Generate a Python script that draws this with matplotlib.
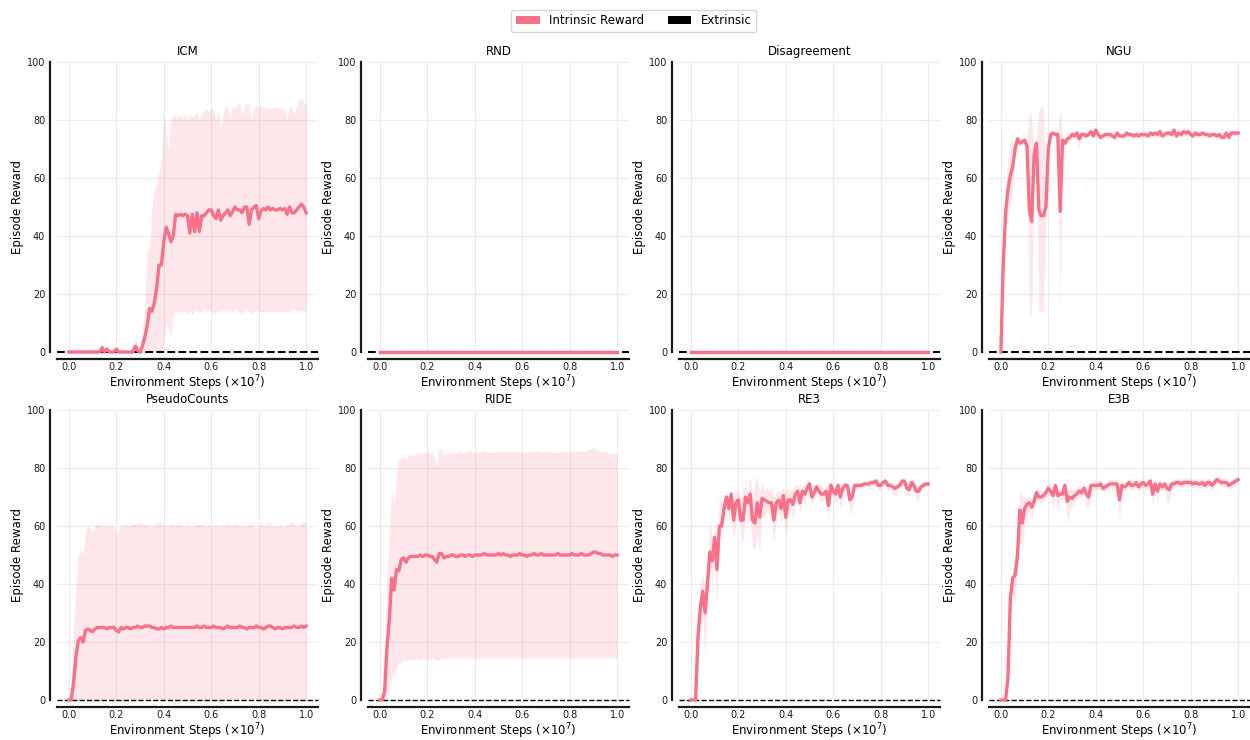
import numpy as np
import matplotlib
matplotlib.use("Agg")
import matplotlib.pyplot as plt
from matplotlib.patches import Patch

# ---------------- data ----------------
STEPS = [i / 100 for i in range(101)]  # x 10^7 environment steps
TITLES = ["ICM", "RND", "Disagreement", "NGU", "PseudoCounts", "RIDE", "RE3", "E3B"]
Y_TICKS = [0, 20, 40, 60, 80, 100]
X_TICKS = [0.0, 0.2, 0.4, 0.6, 0.8, 1.0]

ICM_MEAN = [0,0,0,0,0,0,0,0,0,0, 0,0,0,0,1.5,0,1,0,0,0,
            1,0,0,0,0,0,0,0,2,0.5, 0,2,5,9,15,14,17,22,30,30,
            38,43,41,38,40,47.5,47,47.5,47,47.5, 47,41,47.5,41.5,48,41.5,47,47,48,49,
            49,47,46,49,45.5,47,48,49,47,48.5, 50,49,49,48,50,50,44,49,50,50.5,
            46,48.5,49.5,49,50,49,49.5,49,49,49.5, 49,49.5,47.5,50,48,48,49,50,51,50, 48]
ICM_HIGH = [0,0,0,0,0,0,0,0,0,0, 0,0,0,0,3,1,2,0,0,0,
            2,0,0,0,0,0,0,0,5,2, 1,8,15,36,35,50,56,57,62,66,
            82,77,69,80,82,81,81,82,80,82, 80,82,81,82,83,80,82,83,84,83,
            84,84,80,84,78,82,85,84,80,85, 84,85,86,82,85,86,85,79,84,85,
            84.5,85,84,84.5,84,84,84,84.5,84,84, 84.5,83,80,85,84,82,85,87,87.5,86, 85]
ICM_LOW = [0,0,0,0,0,0,0,0,0,0, 0,0,0,0,0,0,0,0,0,0,
           0,0,0,0,0,0,0,0,0,0, 0,0,0,0,0,0,0,0,0,0,
           3,10,8,5,13,14,14,13.5,14,14, 13,14,13,14.5,14,13.5,14,15,14,14.5,
           14,13,14,14,14.5,14,14,14.5,14,14, 15,14,14,13,14,14.5,14,13,14,14.5,
           14,14,14,14,14,14,14,14,14,14, 14,14,14,14,14.5,15,14,14,14.5,14, 14.5]

ZERO_MEAN = [0] * 101  # RND and Disagreement stay at zero

NGU_MEAN = [0,30,48,56,61,64,70,73.5,72,72.5, 73,71,49,45,68,72,49,47,47,50,
            70,75,75.5,75,75,48.5,73,72,73.5,74, 75,74.5,75.5,73.5,75,75,74.5,75,76,74.5,
            76.5,75,74,74.5,75,75,75,74.5,74,75.5, 74.5,74.5,74.5,75.5,75,75,74.5,75,74.5,75,
            75,75,74.5,75.5,75,75.5,75,76,74.5,75, 75.5,75.5,75,76.5,74.5,75.5,75,76,75.5,76,
            75,74.5,75.5,75,75,75.5,75,75,74.5,75, 75,74.5,75,74,74,75.5,74,75.5,75.5,75.5, 75.5]
NGU_HIGH = [0,34,56,68,73,72,72,74.5,73,73.5, 74,72.5,83,80,70,73.5,83,85,84,52,
            71.5,76,76.5,76,76.5,84,74.5,73,74.5,75, 76,75.5,76.5,75,76,76,75.5,76,77,75.5,
            77.5,76,75,75.5,76,76,76,75.5,75,76.5, 75.5,75.5,75.5,76.5,76,76,75.5,76,75.5,76,
            76,76,75.5,76.5,76,76.5,76,77,75.5,76, 76.5,76.5,76,77.5,75.5,76.5,76,77,76.5,77,
            76,75.5,76.5,76,76,76.5,76,76,75.5,76, 76,75.5,76,75,75,76.5,75,76.5,76.5,76.5, 76.5]
NGU_LOW = [0,26,42,47,50,58,68,72.5,71,71.5, 72,69.5,14,13,66,70.5,14,14,14,48,
           68.5,74,74.5,74,74.5,14,71.5,71,72.5,73, 74,73.5,74.5,70,74,74,73.5,74,75,73.5,
           75.5,74,73,73.5,74,74,74,73.5,73,74.5, 73.5,73.5,73.5,74.5,74,74,73.5,74,73.5,74,
           74,74,73.5,74.5,74,74.5,74,75,73.5,74, 74.5,74.5,74,75.5,73.5,74.5,74,75,74.5,75,
           74,73.5,74.5,74,74,74.5,74,74,73.5,74, 74,73.5,74,73,73,74.5,73,74.5,74.5,74.5, 74.5]

PC_MEAN = [0,0,6,15,20.5,21.5,20,24,24.5,24, 23.5,24.5,25,25,25,25,24.5,25,25,25,
           24,23.5,25,24.5,25,25,24.5,25,25,25.5, 25,25,25.5,25.5,25.5,25,25,24.5,24.5,25,
           24.5,25,25,25.5,25,25,25,25,25,25, 25,25,25,25,25.5,25,25,25.5,25,25,
           25,25.5,25,25,25,24.5,25,25.5,25,25, 25,25,25.5,25,25,24.5,25,25,25,25.5,
           25,25,24.5,25,25.5,25.5,25,24.5,25,25, 24.5,25,25,25,25,25.5,25,25,25.5,25, 25.5]
PC_HIGH = [0,5,25,40,50,52,50,58,60,59, 58,60,61,60.5,60,60,60.5,60,60,59.5,
           57,58,60.5,60,60.5,60,60,60.5,61,61, 61.5,61,60.5,60.5,60,60,60,61,61.5,61,
           60,60,60,60.5,60.5,60,61,60.5,60,60, 60.5,60,60,60,60.5,61,60.5,60,60,60.5,
           60,60,60.5,60,60,60.5,60,61,60,60, 61,60,60,60.5,60,60,60.5,61,60,59.5,
           60,61,60,60,61.5,61,60,60,60,60.5, 59.5,60,60,61,61.5,60.5,60,60,61,61.5, 61]
PC_LOW = [0] * 101

RIDE_MEAN = [0,0,3,18,28,42,38,45,44.5,48.5, 49,47.5,49,49.5,49.5,49.5,49.5,50,49.5,50,
             50,49.5,49.5,48.5,47.5,50.5,50.5,49,49.5,49.5, 50,50,49.5,49.5,50,50,49.5,50,50,49.5,
             50,50,50,50,50.5,50,50,50,50,50, 50.5,50,50.5,50,50,49.5,50,50,50,50.5,
             50,50,49.5,50,50,50.5,50,50,50.5,50, 50,50,50,50,50,50.5,50,50,50,50,
             50,50.5,50,50,50,50.5,50,50,50,50.5, 51,51,50.5,50.5,50,50,50,50,49.5,50, 50]
RIDE_HIGH = [0,3,20,40,60,72,68,77,83,83, 84,83,84,85,84,85,85,85.5,85,85.5,
             86,85,85.5,83,81,87,86.5,84.5,85,85.5, 85,85.5,85,86,85.5,85,85.5,85.5,86,85.5,
             85.5,85.5,85.5,86,86,85.5,85.5,85.5,85.5,85.5, 86,85.5,85.5,85.5,86,85.5,85.5,86,85.5,85.5,
             85.5,85.5,85.5,86,86,85.5,86,85.5,85.5,85.5, 86,85.5,85.5,85.5,85.5,85.5,85.5,85.5,86,85.5,
             85.5,86,85.5,86,86,86,85.5,86,86.5,86.5, 87,86.5,86,85.5,86,85.5,85.5,85,85,85, 85]
RIDE_LOW = [0,0,0,0,4,8,9,11,13,13, 14,13.5,14,14,14,14.5,14,14,14.5,14,
            14,14,14.5,14,13.5,14,14.5,14.5,14.5,14.5, 14.5,14.5,14.5,14.5,14.5,14.5,14.5,14.5,14.5,14.5,
            14.5,14.5,14.5,14.5,14.5,14.5,14.5,14.5,14.5,14.5, 14.5,14.5,14.5,14.5,14.5,14.5,14.5,14.5,14.5,14.5,
            14.5,14.5,14.5,14.5,14.5,14.5,14.5,14.5,14.5,14.5, 14.5,14.5,14.5,14.5,14.5,14.5,14.5,14.5,14.5,14.5,
            14.5,14.5,14.5,14.5,14.5,14.5,14.5,14.5,14.5,14.5, 14.5,14.5,14.5,14.5,14.5,14.5,14.5,14.5,14.5,14.5, 14.5]

RE3_MEAN = [0,0,0,22,32,37.5,30,40,51,48, 56,45,60,60,66,70,66,71,62,68,
            69,62,62,70,68,71,62,61,68,63, 69.5,69,68.5,68,68,62,68,69,66,70.5,
            63,69,69,67.5,71,72,68,72,71,73, 74.5,70,71.5,73.5,72,71,71,72,67,74,
            72,71,74,70,73,74,74,69,70,74, 74,74,74,74.5,74.5,74.5,75,75,75.5,74,
            74,75,75.5,74,74,73.5,73,73.5,74,75.5, 75.5,73,72.5,75,74,72,72,73.5,74,74.5, 74.5]
RE3_HIGH = [0,0,0,28,40,43,40,46,62,55, 60,55,70,68,70,71,70,72,70,72,
            72,70,73,74,72,77,70,75,77,72, 75,72,73,72,74,70,72,72,72,74,
            72,73,72,73,74,74,73,74,74,76, 76,73,74,75,74,74,73,74,73,76,
            74,74,75,73,75,75.5,75,72,72,75, 75,75,75,75.5,75.5,75.5,76,76,76.5,75.5,
            75,76,76.5,75.5,75,75,74.5,75,75.5,76.5, 76.5,75,74.5,76,76,74,74,75,75.5,75.5, 75.5]
RE3_LOW = [0,0,0,15,24,30,15,33,45,40, 52,34,55,57,62,67,62,68,55,62,
           66,56,55,65,62,62,52,52,58,51, 63,63,65,64,62,54,63,65,60,66,
           56,64,66,62,68,69,64,70,68,70, 71,67,69,72,70,68,69,70,62,71,
           70,68,72,66,71,72.5,72.5,64,66,73, 73,73,73,73.5,73.5,73.5,74,74,74.5,72.5,
           72.5,74,74,72,72.5,71,70,71.5,72.5,74, 74.5,71,70,73.5,72,69,69.5,72,72.5,73.5, 73.5]

E3B_MEAN = [0,0,0,8,35,42,43,50,65.5,61, 66,67.5,68,66.5,68.5,71.5,70,70,70.5,71.5,
            73,72,70.5,74,70.5,71,71,74,68.5,70, 69.5,70.5,71,72,71.5,73,71,70,74,74,
            74,74,74.5,73,73.5,74,74.5,74.5,74.5,74.5, 69,74,73.5,74,75,74,74,75,73.5,74.5,
            75,74,74.5,75.5,71,74.5,72,74.5,73.5,74.5, 73,72.5,74.5,74.5,75,75,74.5,75,75,75,
            75,74.5,75,74.5,74.5,75,74,75,75,74, 75,76,75.5,75,75,75,74,74.5,75,75.5, 76]
E3B_HIGH = [0,0,0,10,40,46,46,56,73,70, 70,70,71,69,70.5,74,72,72,72.5,73.5,
            75,74,73,75,73,73,73.5,75.5,73,72.5, 72,72.5,73,74,73.5,75,73.5,72.5,76,75.5,
            75.5,75.5,76,74.5,75,75.5,76,76,76,76, 73,75.5,75,75.5,76.5,75.5,75.5,76.5,75,76,
            76.5,75.5,76,77,74,76,74.5,76,75,76, 75,74.5,76,76,76.5,76.5,76,76.5,76.5,76.5,
            76.5,76,76.5,76,76,76.5,75.5,76.5,76.5,75.5, 76.5,77.5,77,76.5,76.5,76.5,75.5,76,76.5,77, 77]
E3B_LOW = [0,0,0,6,33,36,33,44,55,52, 60,64,65,62,66,69,68,68,68.5,69.5,
           71,70,66,72,65,69,68.5,72,61,65, 67,68.5,69,70,69.5,71,67,66,72,72.5,
           72.5,72.5,73,71.5,72,72.5,73,73,73,73, 62,72.5,72,72.5,73.5,72.5,72.5,73.5,72,73,
           73.5,72.5,73,74,67,73,68,73,72,73, 68,68,73,73,73.5,73.5,73,73.5,73.5,73.5,
           73.5,73,73.5,73,73,73.5,72.5,73.5,73.5,72.5, 73.5,74.5,74,73.5,73.5,73.5,72.5,73,73.5,74, 75]

SERIES = {
    "ICM": (ICM_MEAN, ICM_LOW, ICM_HIGH),
    "RND": (ZERO_MEAN, None, None),
    "Disagreement": (ZERO_MEAN, None, None),
    "NGU": (NGU_MEAN, NGU_LOW, NGU_HIGH),
    "PseudoCounts": (PC_MEAN, PC_LOW, PC_HIGH),
    "RIDE": (RIDE_MEAN, RIDE_LOW, RIDE_HIGH),
    "RE3": (RE3_MEAN, RE3_LOW, RE3_HIGH),
    "E3B": (E3B_MEAN, E3B_LOW, E3B_HIGH),
}

# ---------------- style ----------------
LINE_COLOR = "#f77189"
W, H = 1250, 740
fig = plt.figure(figsize=(W / 100, H / 100), dpi=100)
fig.patch.set_facecolor("white")

col_left = [57, 368, 679, 989]
row_bottom_from_top = [352, 700]
ax_w, ax_h = 261, 290

x = np.array(STEPS)
for idx, name in enumerate(TITLES):
    r, c = divmod(idx, 4)
    left = col_left[c] / W
    bottom = (H - row_bottom_from_top[r]) / H
    ax = fig.add_axes([left, bottom, ax_w / W, ax_h / H])
    mean, low, high = SERIES[name]
    ax.axhline(0, color="black", ls="--", lw=1.5 if r == 0 else 1.0, zorder=2, clip_on=False)
    if low is not None:
        ax.fill_between(x, low, high, color=LINE_COLOR, alpha=0.17, lw=0, zorder=1)
    ax.plot(x, mean, color=LINE_COLOR, lw=2.4, zorder=3, clip_on=False)
    ax.set_xlim(-0.05, 1.05)
    ax.set_ylim(0, 100)
    ax.set_xticks(X_TICKS)
    ax.set_xticklabels([f"{t:.1f}" for t in X_TICKS])
    ax.set_yticks(Y_TICKS)
    ax.grid(True, color="#ebebeb", lw=0.8)
    ax.set_axisbelow(True)
    for s in ["top", "right"]:
        ax.spines[s].set_visible(False)
    for s in ["left", "bottom"]:
        ax.spines[s].set_position(("outward", 5))
        ax.spines[s].set_linewidth(1.6)
        ax.spines[s].set_color("#1a1a1a")
    ax.tick_params(axis="x", length=0, labelsize=7, pad=2.5, colors="#1a1a1a")
    ax.tick_params(axis="y", length=0, labelsize=7, pad=3.5, colors="#1a1a1a")
    ax.set_title(name, fontsize=8.5, pad=5)
    ax.set_ylabel("Episode Reward", fontsize=8.5, labelpad=2)
    ax.set_xlabel(r"Environment Steps ($\times 10^7$)", fontsize=8.5, labelpad=0.5)

handles = [Patch(facecolor=LINE_COLOR, label="Intrinsic Reward"),
           Patch(facecolor="black", label="Extrinsic")]
fig.legend(handles=handles, loc="upper center", bbox_to_anchor=(0.507, 0.995), ncol=2,
           fontsize=8.5, frameon=True, edgecolor="#cccccc", columnspacing=2.0)

fig.savefig("out.png", dpi=100)
